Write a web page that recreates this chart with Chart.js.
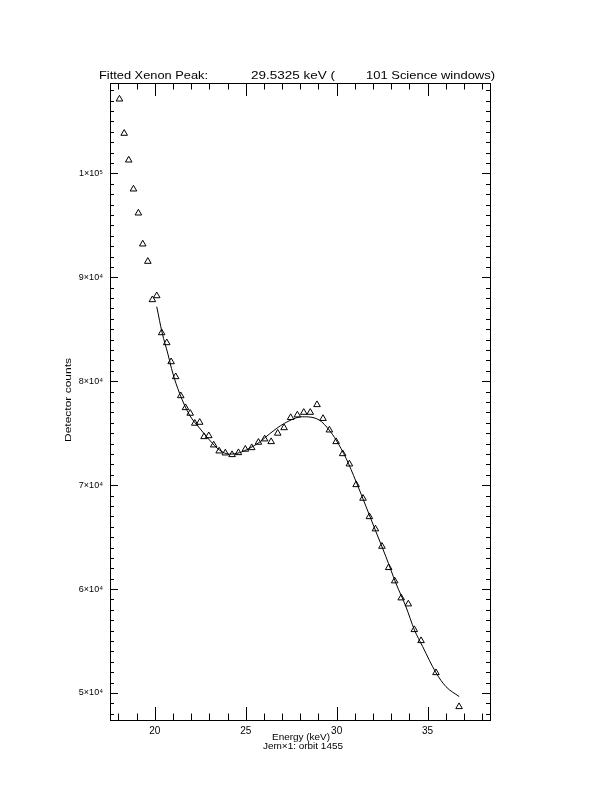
<!DOCTYPE html>
<html lang="en">
<head>
<meta charset="UTF-8">
<title>Fitted Xenon Peak</title>
<script src="https://cdn.jsdelivr.net/npm/chart.js"></script>
<style>
    body { margin: 0; background: #fff; }
</style>
</head>
<body>
<canvas id="grafico" width="612" height="792"></canvas>
<script>
    // pontos medidos (triangulos)
    const energia = [18.06, 18.32, 18.57, 18.83, 19.10, 19.34, 19.62, 19.87, 20.11, 20.38,
        20.66, 20.90, 21.15, 21.43, 21.69, 21.95, 22.20, 22.47, 22.71, 22.97,
        23.24, 23.54, 23.88, 24.25, 24.60, 24.98, 25.33, 25.70, 26.04, 26.40,
        26.76, 27.11, 27.47, 27.84, 28.19, 28.55, 28.92, 29.25, 29.60, 29.97,
        30.33, 30.70, 31.07, 31.45, 31.80, 32.13, 32.49, 32.86, 33.19, 33.55,
        33.94, 34.27, 34.64, 35.46, 36.73];
    const contagens = [107150, 103850, 101280, 98490, 96180, 93200, 91530, 87840, 88220, 84660,
        83700, 81870, 80430, 78600, 77450, 76910, 75950, 76040, 74660, 74750,
        73860, 73280, 73090, 72930, 73120, 73450, 73600, 74120, 74440, 74180,
        74990, 75520, 76500, 76750, 77000, 77000, 77740, 76410, 75300, 74180,
        73020, 72030, 70040, 68730, 66960, 65780, 64110, 62060, 60780, 59140,
        58560, 56090, 55030, 51950, 48680];

    // curva ajustada
    const energiaAjuste = [20.11, 20.41, 20.71, 20.99, 21.36, 21.91, 22.46, 23.01, 23.56, 24.10,
        24.65, 25.20, 25.75, 26.30, 27.13, 28.13, 29.04, 29.59, 29.97, 30.52,
        31.07, 31.62, 32.16, 32.71, 33.26, 33.81, 34.27, 34.73, 35.46, 36.01, 36.74];
    const contagensAjuste = [87170, 84640, 82710, 80790, 78860, 76750, 75500, 74340, 73380, 72990,
        73120, 73540, 74120, 74920, 75950, 76580, 76270, 75300, 74340, 72580,
        70330, 67920, 65520, 63110, 60550, 58300, 56090, 54460, 51950, 50610, 49650];

    const ticksX = [20, 25, 30, 35];
    const rotulosX = ['20', '25', '30', '35'];
    const ticksY = [50000, 60000, 70000, 80000, 90000, 100000];
    const rotulosY = ['5×10⁴', '6×10⁴', '7×10⁴', '8×10⁴', '9×10⁴', '1×10⁵'];

    const fonte = '"Liberation Sans", Arial, sans-serif';

    // escreve texto forçando a largura
    function texto(ctx, t, x, y, tam, largura, alinhar) {
        ctx.save();
        ctx.font = tam + 'px ' + fonte;
        const w = ctx.measureText(t).width;
        const k = largura / w;
        let x0 = x;
        if (alinhar === 'center') x0 = x - largura / 2;
        ctx.translate(x0, y);
        ctx.scale(k, 1);
        ctx.textBaseline = 'alphabetic';
        ctx.textAlign = 'left';
        ctx.fillText(t, 0, 0);
        ctx.restore();
    }

    const moldura = {
        id: 'moldura',
        afterDraw(chart) {
            const ctx = chart.ctx;
            const a = chart.chartArea;
            const sx = chart.scales.x, sy = chart.scales.y;
            ctx.save();
            ctx.strokeStyle = '#000';
            ctx.fillStyle = '#000';
            ctx.lineWidth = 1;
            ctx.strokeRect(a.left + 0.5, a.top + 0.5, a.right - a.left, a.bottom - a.top);

            ctx.beginPath();
            for (let v = 18; v <= 38; v++) {
                const px = Math.round(sx.getPixelForValue(v)) + 0.5;
                const len = (v % 5 === 0) ? 13 : 6.5;
                ctx.moveTo(px, a.bottom); ctx.lineTo(px, a.bottom - len);
                ctx.moveTo(px, a.top); ctx.lineTo(px, a.top + len);
            }
            for (let v = 48000; v <= 108000; v += 1000) {
                const py = Math.round(sy.getPixelForValue(v)) + 0.5;
                const len = (v % 10000 === 0) ? 8 : 4;
                ctx.moveTo(a.left, py); ctx.lineTo(a.left + len, py);
                ctx.moveTo(a.right, py); ctx.lineTo(a.right - len, py);
            }
            ctx.stroke();

            // titulo
            texto(ctx, 'Fitted Xenon Peak:', 99, 79, 11, 109);
            texto(ctx, '29.5325 keV (', 251, 79, 11, 84);
            texto(ctx, '101 Science windows)', 366, 79, 11, 129);

            // eixos
            texto(ctx, 'Energy (keV)', 301, 740, 9, 58, 'center');
            texto(ctx, 'Jem×1: orbit 1455', 303, 749, 9, 80, 'center');

            ctx.save();
            ctx.translate(71, 400);
            ctx.rotate(-Math.PI / 2);
            texto(ctx, 'Detector counts', 0, 0, 9, 84, 'center');
            ctx.restore();
            ctx.restore();
        }
    };

    new Chart(document.getElementById('grafico'), {
        data: {
            datasets: [{
                type: 'scatter',
                data: energia.map((e, i) => ({ x: e, y: contagens[i] })),
                pointStyle: 'triangle',
                pointRadius: 3.8,
                borderColor: '#000',
                backgroundColor: 'rgba(0,0,0,0)',
                borderWidth: 1
            }, {
                type: 'line',
                data: energiaAjuste.map((e, i) => ({ x: e, y: contagensAjuste[i] })),
                borderColor: '#000',
                borderWidth: 1,
                pointRadius: 0,
                cubicInterpolationMode: 'monotone',
                fill: false
            }]
        },
        options: {
            responsive: false,
            devicePixelRatio: 1,
            animation: false,
            layout: { padding: { top: 83, right: 122, left: 0, bottom: 0 } },
            plugins: { legend: { display: false }, tooltip: { enabled: false } },
            scales: {
                x: {
                    type: 'linear',
                    min: 17.54,
                    max: 38.43,
                    grid: { display: false, drawTicks: false },
                    border: { display: false },
                    afterBuildTicks: s => { s.ticks = ticksX.map(v => ({ value: v })); },
                    afterFit: s => { s.height = 72; },
                    ticks: {
                        color: '#000',
                        font: { family: fonte, size: 10 },
                        padding: 5,
                        maxRotation: 0,
                        callback: v => rotulosX[ticksX.indexOf(v)]
                    }
                },
                y: {
                    type: 'linear',
                    min: 47400,
                    max: 108700,
                    grid: { display: false, drawTicks: false },
                    border: { display: false },
                    afterBuildTicks: s => { s.ticks = ticksY.map(v => ({ value: v })); },
                    afterFit: s => { s.width = 110; },
                    ticks: {
                        color: '#000',
                        font: { family: fonte, size: 9 },
                        padding: 7,
                        callback: v => rotulosY[ticksY.indexOf(v)]
                    }
                }
            }
        },
        plugins: [moldura]
    });
</script>
</body>
</html>
